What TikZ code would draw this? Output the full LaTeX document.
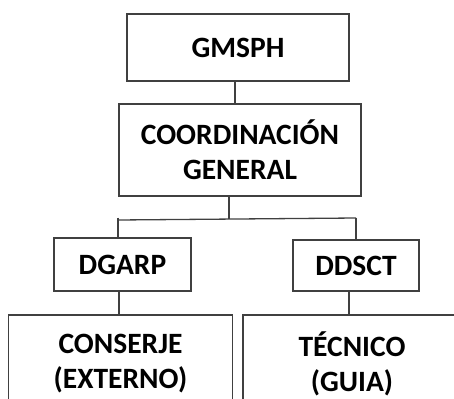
\documentclass[tikz,border=0pt]{standalone}
\usepackage{fontspec}
\setmainfont{Carlito}
\begin{document}
\begin{tikzpicture}[x=1pt,y=-1pt,
  box/.style={draw=linegray,line width=1.3pt,rectangle,inner sep=0pt,align=center,
    font=\fontsize{29.5}{35}\selectfont\bfseries,text=black},
  wire/.style={draw=linegray,line width=1.3pt}]
\definecolor{linegray}{HTML}{404040}
\useasboundingbox (0,0) rectangle (454,398);
\clip (0,0) rectangle (454,398);
\node[box,minimum width=222pt,minimum height=67pt] (gm) at (238,47.5) {GMSPH};
\node[box,minimum width=242pt,minimum height=92pt] (co) at (240,150) {COORDINACIÓN\\GENERAL};
\node[box,minimum width=137pt,minimum height=53pt] (dg) at (122.5,264.5) {DGARP};
\node[box,minimum width=126pt,minimum height=51pt] (dd) at (356,265.5) {DDSCT};
\node[box,minimum width=224pt,minimum height=98pt] (cs) at (120.5,364) {CONSERJE\\(EXTERNO)};
\node[box,minimum width=218pt,minimum height=98pt] (te) at (352,364) {TÉCNICO\\(GUIA)};
\coordinate (bl) at (118,220);
\coordinate (br) at (356,218);
\coordinate (bm) at (229,219);
\draw[wire] (gm.south -| 235,0) -- (co.north -| 235,0);
\draw[wire] (co.south -| bm) -- (bm);
\draw[wire] (bl) -- (br);
\draw[wire] (118,217.5) -- (dg.north -| bl);
\draw[wire] (br) -- (dd.north -| br);
\draw[wire] (dg.south -| 119,0) -- (cs.north -| 119,0);
\draw[wire] (dd.south -| 349,0) -- (te.north -| 349,0);
\end{tikzpicture}
\end{document}
